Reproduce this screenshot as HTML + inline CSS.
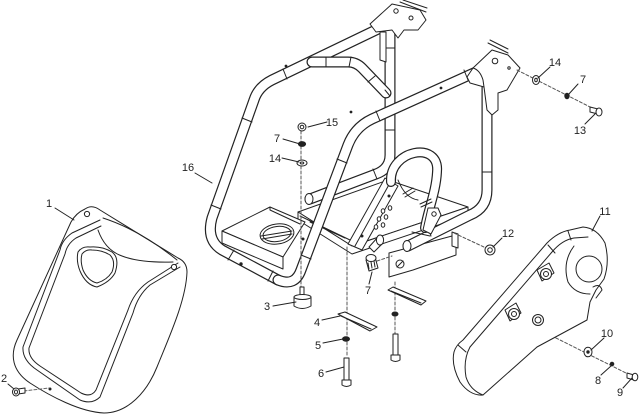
<!DOCTYPE html>
<html><head><meta charset="utf-8">
<style>
html,body{margin:0;padding:0;background:#fff;}
svg{display:block;}
text{font-family:"Liberation Sans",Arial,sans-serif;font-size:11px;fill:#222;}
</style></head>
<body>
<svg width="640" height="415" viewBox="0 0 640 415" xmlns="http://www.w3.org/2000/svg">
<g fill="none" stroke="#222" stroke-width="1" stroke-linejoin="round" stroke-linecap="round">

<!-- ===== Part 1 cover ===== -->
<path fill="#fff" d="M85,209 Q92,204 100,210 L178,258 Q187,262 187,272 C186,300 170,335 157,367 C147,392 128,413 104,413 C80,412 50,396 30,383 C12,371 10,355 17,340 L71,222 Q76,213 85,209 Z"/>
<path d="M100,220 L72,233 Q62,240 60,250 L23,347 Q22,360 37,370 L80,400 Q92,405 100,397 L133,313 Q138,295 150,285 L180,267"/>
<path d="M101,226 L76,238 Q67,244 65,254 L29,348 Q28,358 40,366 L81,393 Q91,398 96,390 L128,310"/>
<path d="M128,310 Q134,292 148,282 L178,263"/>
<path d="M103,218 Q140,230 177,260"/>
<path d="M98,230 Q105,250 122,256 Q140,263 173,262"/>
<path d="M78,252 Q82,246 90,247 Q102,246 112,252 Q120,258 115,273 Q110,282 97,287 Q86,285 80,271 Q76,261 78,252 Z"/>
<path d="M82,254 Q86,249 92,250 Q102,250 110,255 Q116,261 112,272 Q107,280 97,283 Q88,281 83,270 Q80,261 82,254 Z"/>
<circle cx="87" cy="214" r="2.6" fill="#fff"/>
<circle cx="174" cy="267" r="2.6" fill="#fff"/>
<circle cx="50" cy="389" r="1" fill="#222"/>
<line x1="55" y1="208" x2="74" y2="220"/>

<!-- Part 2 bolt -->
<path stroke-dasharray="3,2" stroke="#666" d="M24,391 L49,388"/>
<path fill="#fff" d="M18,389 L25,388 L25,393 L18,394 Z"/>
<ellipse cx="16" cy="392" rx="3.5" ry="4" fill="#fff"/>
<ellipse cx="16" cy="392" rx="1.5" ry="2"/>
<line x1="8" y1="384" x2="14" y2="389"/>

<!-- ===== Frame 16 (back tubes) ===== -->
<g id="tA">
<path stroke-width="11" d="M310,199 L376,174 Q390,169 390,155 L390,36 Q390,24 378,29 L272,80 Q258,87 254,100 L212,218 Q206,240 222,250 L278,280"/>
<path stroke="#fff" stroke-width="8.6" d="M310,199 L376,174 Q390,169 390,155 L390,36 Q390,24 378,29 L272,80 Q258,87 254,100 L212,218 Q206,240 222,250 L278,280"/>
</g>
<ellipse cx="309" cy="199" rx="4" ry="5.5" fill="#fff"/>
<!-- cross tube -->
<path stroke-width="11" d="M312,62 L348,62 Q356,62 362,68 L386,93"/>
<path stroke="#fff" stroke-width="8.6" d="M312,62 L348,62 Q356,62 362,68 L386,93"/>
<path d="M385,90 L390,96"/>
<!-- band marks -->
<path d="M287,79 L283,69 M252,122 L242,118 M221,209 L211,205 M228,260 L234,250 M326,57 L326,67 M351,57 L349,67 M368,82 L375,76 M385,48 L395,48 M385,130 L395,130 M377,179 L373,169"/>
<circle cx="286" cy="66" r="0.9" fill="#222"/>
<circle cx="351" cy="112" r="0.9" fill="#222"/>

<!-- top rear bracket -->
<path fill="#fff" d="M370,24 L392,4 L420,10 L426,20 L418,30 L404,30 L398,38 L392,30 L376,32 Z"/>
<path d="M400,2 L426,12 M403,0 L427,8"/>
<circle cx="396" cy="11" r="2.2"/>
<circle cx="411" cy="18" r="2"/>
<path fill="#fff" d="M380,32 L386,32 L386,62 L380,60 Z"/>

<!-- ===== Base plate / block ===== -->
<path fill="#fff" d="M298,212 L388,180 L468,207 L352,246 Z"/>
<path fill="#fff" d="M298,212 L352,246 L468,207 L468,215 L352,254 L298,220 Z"/>
<path d="M300,216 L350,240 M310,222 L345,238"/>
<!-- block -->
<path fill="#fff" d="M222,231 L270,207 L305,222 L283,257 Z"/>
<path fill="#fff" d="M222,231 L283,257 L283,269 L222,243 Z"/>
<path d="M270,207 L270,210 L300,224"/>
<ellipse cx="277" cy="234" rx="17" ry="10" transform="rotate(-8 277 234)"/>
<ellipse cx="277" cy="234" rx="14" ry="7.5" transform="rotate(-8 277 234)"/>
<path d="M261,236 L292,231 M262,239 L292,234"/>
<circle cx="241" cy="264" r="1.2" fill="#222"/>
<circle cx="303" cy="239" r="1" fill="#222"/>

<!-- hanging tab under plate -->
<path fill="#fff" d="M389,253 L452,236 L456,240 L456,255 L413,270 L389,277 Z"/>
<circle cx="400" cy="264" r="4" fill="#fff"/>
<path d="M397,267 L403,261"/>
<path fill="#fff" d="M452,232 L458,234 L458,248 L452,246 Z"/>

<!-- front rail + vertical -->
<path stroke-width="11" d="M487,80 L487,190 Q487,208 470,215 L408,246"/>
<path stroke="#fff" stroke-width="8.6" d="M487,80 L487,190 Q487,208 470,215 L408,246"/>
<ellipse cx="407" cy="246" rx="4" ry="5.5" fill="#fff"/>
<path d="M482,172 L492,172 M431,236 L427,226"/>

<!-- channel upright -->
<path fill="#fff" d="M348,244 L385,178 L398,186 L362,250 Z"/>
<path d="M355,246 L391,181"/>
<circle cx="362" cy="236" r="1" fill="#222"/>
<circle cx="389" cy="196" r="1" fill="#222"/>
<!-- handle loop -->
<path stroke-width="10" d="M391,182 C389,150 440,140 437,172 C436,192 428,210 425,228"/>
<path stroke="#fff" stroke-width="7.6" d="M391,182 C389,150 440,140 437,172 C436,192 428,210 425,228"/>
<path d="M398,180 Q405,198 418,200"/>
<!-- holes & slots -->
<g fill="#fff">
<ellipse cx="383" cy="211" rx="1.8" ry="2.2"/>
<ellipse cx="390" cy="208" rx="1.8" ry="2.2"/>
<ellipse cx="379" cy="219" rx="1.8" ry="2.2"/>
<ellipse cx="386" cy="217" rx="1.8" ry="2.2"/>
<ellipse cx="376" cy="227" rx="1.8" ry="2.2"/>
<ellipse cx="383" cy="225" rx="1.8" ry="2.2"/>
</g>
<path d="M403,194 L413,188 M405,197 L415,191 M420,204 L431,199 M421,207 L432,202"/>
<path fill="#fff" d="M423,230 L428,208 L438,208 L441,215 L431,234 Z"/>
<circle cx="434" cy="214" r="2.2"/>
<path d="M412,232 L430,236"/>
<!-- pins -->
<path fill="#fff" d="M369,247 L378,237 L383,243 L374,252 Z"/>
<ellipse cx="380" cy="240" rx="3.6" ry="5" fill="#fff"/>

<!-- front tubes (top + diagonal + bottom) -->
<path stroke-width="11" d="M278,280 Q295,287 301,270 L348,145 Q355,127 372,119 L476,72 Q487,67 487,80"/>
<path stroke="#fff" stroke-width="8.6" d="M278,280 Q295,287 301,270 L348,145 Q355,127 372,119 L476,72 Q487,67 487,80"/>
<path d="M268,281 L273,271 M311,259 L301,255 M347,163 L337,159 M380,121 L376,111 M468,80 L464,70"/>
<circle cx="441" cy="88" r="0.9" fill="#222"/>

<!-- top front bracket -->
<path fill="#fff" d="M473,68 L492,50 L508,55 L520,68 L507,90 L498,93 L498,110 L492,115 L487,110 L484,87 L470,83 L467,77 Z"/>
<path d="M488,43 L508,53 M490,40 L508,49"/>
<path d="M473,68 Q480,70 483,80 L484,87"/>
<circle cx="495" cy="61" r="2.8"/>
<circle cx="509" cy="68" r="1.2"/>

<!-- ===== dashed axis lines ===== -->
<g stroke="#555" stroke-dasharray="3,2">
<path d="M301,131 L301,288"/>
<path d="M347,247 L347,357"/>
<path d="M395,282 L395,334"/>
<path d="M517,70 L596,110"/>
<path d="M454,233 L486,248"/>
<path d="M377,261 L392,256"/>
<path d="M520,320 L632,376"/>
</g>

<!-- hardware: 15,7,14 -->
<circle cx="302" cy="127" r="4" fill="#fff"/>
<circle cx="302" cy="127" r="1.8"/>
<ellipse cx="302" cy="144" rx="3.6" ry="2.4" fill="#222"/>
<ellipse cx="302" cy="163" rx="5" ry="3" fill="#fff"/>
<ellipse cx="302" cy="163" rx="1.8" ry="1"/>

<!-- part 3 bumper -->
<path fill="#fff" d="M300,287 L304,287 L304,296 L300,296 Z"/>
<path fill="#fff" d="M294,297 L311,297 L311,306 Q302,311 294,306 Z"/>
<ellipse cx="302.5" cy="297" rx="8.5" ry="2.5" fill="#fff"/>

<!-- part 4 plates -->
<path fill="#fff" d="M338,314 L345,312 L377,327 L370,331 Z"/>
<path d="M341,316 L371,329"/>
<path fill="#fff" d="M388,290 L393,287 L426,301 L421,305 Z"/>
<path d="M391,291 L421,303"/>
<!-- part 5 washers -->
<ellipse cx="346" cy="339" rx="3.5" ry="2.2" fill="#222"/>
<ellipse cx="395" cy="314" rx="3" ry="2" fill="#222"/>
<!-- part 6 bolts -->
<path fill="#fff" d="M344,358 L349,358 L349,380 L344,380 Z"/>
<path fill="#fff" d="M342,380 L351,380 L351,385 Q346.5,388 342,385 Z"/>
<path fill="#fff" d="M393,334 L398,334 L398,355 L393,355 Z"/>
<path fill="#fff" d="M391,355 L400,355 L400,360 Q395.5,363 391,360 Z"/>

<!-- part 7 knob -->
<path fill="#fff" d="M366,260 L375,257 L378,268 L369,271 Z"/>
<ellipse cx="371" cy="258" rx="5" ry="3.5" fill="#fff"/>
<path d="M368,263 L369,269 M371,262 L372,268 M374,261 L375,267"/>

<!-- part 12 nut -->
<circle cx="490" cy="250" r="5" fill="#fff"/>
<circle cx="490" cy="250" r="2.3"/>

<!-- top right hardware -->
<ellipse cx="536" cy="80" rx="3.5" ry="4.5" fill="#fff"/>
<ellipse cx="536" cy="80" rx="1.3" ry="1.8"/>
<ellipse cx="567" cy="96" rx="2.2" ry="2.8" fill="#222"/>
<path fill="#fff" d="M590,107 L598,109 L598,114 L590,112 Z"/>
<ellipse cx="599" cy="112" rx="3" ry="4" fill="#fff"/>

<!-- ===== Part 11 belt guard ===== -->
<path fill="#fff" d="M463,340 L547,243 Q558,232 570,230 L583,227 Q597,228 605,243 Q610,262 604,279 L596,290 L592,298 L590,302 L587,320 L537,347 L483,395 Q470,396 460,382 Q451,365 454,352 Q456,345 463,340 Z"/>
<path d="M470,347 L552,252 Q562,240 574,238 L588,237"/>
<path d="M470,347 Q463,360 466,377 Q470,390 483,395"/>
<path d="M458,345 L466,352 M548,245 L555,253 M568,231 L571,240"/>
<circle cx="589" cy="269" r="13" fill="#fff"/>
<path d="M574,246 Q562,262 568,282 Q575,294 590,294"/>
<path d="M593,287 Q600,283 602,290 L596,298"/>
<g fill="#fff">
<path d="M537,270 L549,263 L554,273 L542,281 Z"/>
<circle cx="546" cy="274" r="5.5"/>
<circle cx="546" cy="274" r="2.5"/>
<path d="M505,310 L516,303 L521,313 L510,321 Z"/>
<circle cx="514" cy="314" r="5.5"/>
<circle cx="514" cy="314" r="2.5"/>
<circle cx="538" cy="320" r="5.5"/>
<circle cx="538" cy="320" r="3"/>
</g>

<!-- right hardware 10, 8, 9 -->
<ellipse cx="588" cy="352" rx="4" ry="4.8" fill="#fff"/>
<circle cx="588" cy="352" r="1.2" fill="#222"/>
<circle cx="612" cy="364" r="1.8" fill="#222"/>
<path fill="#fff" d="M627,373 L634,375 L634,380 L627,378 Z"/>
<ellipse cx="635" cy="377" rx="2.8" ry="3.8" fill="#fff"/>

<!-- ===== leader lines ===== -->
<path d="M195,173 L212,183 M308,127 L327,122 M283,139 L300,144 M282,158 L299,162 M273,306 L296,302 M322,320 L340,316 M323,343 L343,339 M326,372 L344,367 M369,284 L372,272 M502,238 L493,247 M600,216 L592,231 M550,67 L538,78 M578,84 L568,95 M585,124 L596,113 M604,338 L591,350 M601,375 L611,366 M623,388 L632,378"/>
</g>

<!-- ===== labels ===== -->
<g text-anchor="middle">
<text x="49" y="207">1</text>
<text x="4" y="382">2</text>
<text x="267" y="310">3</text>
<text x="317" y="326">4</text>
<text x="318" y="349">5</text>
<text x="321" y="377">6</text>
<text x="277" y="142">7</text>
<text x="275" y="162">14</text>
<text x="332" y="126">15</text>
<text x="188" y="171">16</text>
<text x="368" y="294">7</text>
<text x="508" y="237">12</text>
<text x="605" y="215">11</text>
<text x="555" y="66">14</text>
<text x="583" y="83">7</text>
<text x="580" y="134">13</text>
<text x="607" y="337">10</text>
<text x="598" y="384">8</text>
<text x="620" y="396">9</text>
</g>
</svg>
</body></html>
